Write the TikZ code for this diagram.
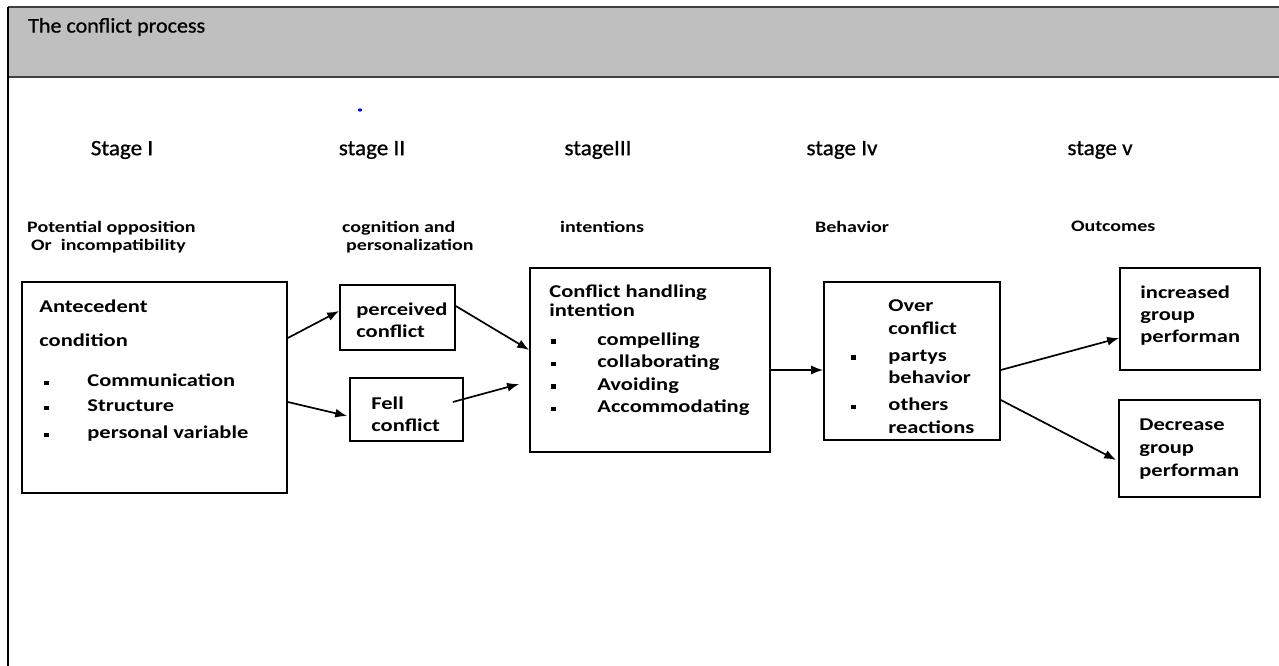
\documentclass[tikz,border=0pt]{standalone}
\usepackage{fontspec}
\setmainfont[FakeStretch=1.25]{Carlito}
\newfontfamily\headfont[FakeStretch=1.05,FakeBold=0.8]{Carlito}
\usetikzlibrary{positioning,arrows.meta}

\definecolor{bandgray}{RGB}{191,191,191}
\definecolor{banddark}{RGB}{64,64,64}
\newcommand{\blt}[1]{\makebox[#1][l]{\rule[1.5bp]{4.5bp}{4.5bp}}}

\tikzset{
  stagebox/.style={draw, line width=1.6bp, inner sep=0pt},
  boxtext/.style={anchor=north west, inner sep=0pt, align=left, font=\fontsize{18bp}{22.5bp}\selectfont\bfseries},
  stagehead/.style={inner sep=0pt, font=\headfont\fontsize{22bp}{26bp}\selectfont},
  stagesub/.style={anchor=north west, inner sep=0pt, align=left, font=\fontsize{16bp}{18bp}\selectfont\bfseries},
  flow/.style={-{Latex[length=12bp,width=9bp]}, line width=1.7bp},
}

\begin{document}
\begin{tikzpicture}[x=1bp,y=-1bp]
\useasboundingbox (0,0) rectangle (1279,666);
%% frame and title band
\fill[bandgray] (8,7) rectangle (1279,77);
\draw[banddark, line width=2bp] (8,7) -- (1279,7) (8,77) -- (1279,77);
\draw[line width=2bp] (8,7) -- (8,666);
\node[anchor=west, inner sep=0pt, font=\headfont\fontsize{21bp}{24bp}\selectfont] (title) at (28,27) {The conflict process};
\fill[blue] (360,110) ellipse (2.2 and 1.6);
%% stage headings
\node[stagehead] (stage1) at (122,150) {Stage I};
\node[stagehead] (stage2) at (372,150) {stage II};
\node[stagehead] (stage3) at (598,150) {stageIII};
\node[stagehead] (stage4) at (842,150) {stage Iv};
\node[stagehead] (stage5) at (1100,150) {stage v};
\node[stagesub] (sub1) at (27,221) {Potential opposition\\\hspace*{4bp}Or\ \ incompatibility};
\node[stagesub] (sub2) at (342,221) {cognition and\\\hspace*{4bp}personalization};
\node[stagesub] (sub3) at (560,221) {intentions};
\node[stagesub] (sub4) at (815,221) {Behavior};
\node[stagesub] (sub5) at (1071,221) {Outcomes};
%% boxes
\node[stagebox, minimum width=265bp, minimum height=211bp] (antecedent) at (154.5,387.5) {};
\node[stagebox, minimum width=115bp, minimum height=65bp] (perceived) at (397.5,317.5) {};
\node[stagebox, minimum width=113bp, minimum height=63bp] (felt) at (406.5,409.5) {};
\node[stagebox, minimum width=240bp, minimum height=184bp] (intention) at (650,360) {};
\node[stagebox, minimum width=176bp, minimum height=158bp] (behavior) at (912,361) {};
\node[stagebox, minimum width=140bp, minimum height=102bp] (increased) at (1190,319) {};
\node[stagebox, minimum width=141bp, minimum height=97bp] (decrease) at (1189.5,448.5) {};
%% box texts
\node[boxtext, font=\fontsize{18bp}{25bp}\selectfont\bfseries] (antecedent-t) at ([xshift=18bp,yshift=-18.5bp]antecedent.north west)
  {Antecedent\\[9bp] condition\\[15bp]
   \hspace*{5bp}\blt{43bp}Communication\\
   \hspace*{5bp}\blt{43bp}Structure\\[2bp]
   \hspace*{5bp}\blt{43bp}personal variable};
\node[boxtext] (perceived-t) at ([xshift=17bp,yshift=-18.5bp]perceived.north west) {perceived\\[-1bp]conflict};
\node[boxtext] (felt-t) at ([xshift=22bp,yshift=-19.5bp]felt.north west) {Fell\\[-1bp]conflict};
\node[boxtext] (intention-t) at ([xshift=20bp,yshift=-17.5bp]intention.north west)
  {Conflict handling\\[-3.5bp] intention\\[6bp]
   \hspace*{2bp}\blt{46bp}compelling\\
   \hspace*{2bp}\blt{46bp}collaborating\\
   \hspace*{2bp}\blt{46bp}Avoiding\\
   \hspace*{2bp}\blt{46bp}Accommodating};
\node[boxtext] (behavior-t) at ([xshift=28bp,yshift=-18.5bp]behavior.north west)
  {\hspace*{37bp}Over\\
   \hspace*{37bp}conflict\\[4.5bp]
   \blt{37bp}partys\\
   \hspace*{37bp}behavior\\[4.5bp]
   \blt{37bp}others\\
   \hspace*{37bp}reactions};
\node[boxtext] (increased-t) at ([xshift=21bp,yshift=-18.5bp]increased.north west) {increased\\[-0.5bp]group\\[-0.5bp]performan};
\node[boxtext] (decrease-t) at ([xshift=21bp,yshift=-19.5bp]decrease.north west) {Decrease\\group\\[1bp]performan};
%% arrows
\draw[flow] ([yshift=49.5bp]antecedent.east) -- ([yshift=6.5bp]perceived.west);
\draw[flow] ([yshift=-14.5bp]antecedent.east) -- ([xshift=-2bp,yshift=-6.5bp]felt.west);
\draw[flow] ([yshift=11.5bp]perceived.east) -- ([yshift=10bp]intention.west);
\draw[flow] ([xshift=-11bp,yshift=7.5bp]felt.east) -- ([xshift=-10bp,yshift=-24bp]intention.west);
\draw[flow] ([yshift=-10bp]intention.east) -- ([yshift=-9bp]behavior.west);
\draw[flow] ([yshift=-9bp]behavior.east) -- ([yshift=-19bp]increased.west);
\draw[flow] ([yshift=-39bp]behavior.east) -- ([xshift=-2bp,yshift=-11.5bp]decrease.west);
\end{tikzpicture}
\end{document}
